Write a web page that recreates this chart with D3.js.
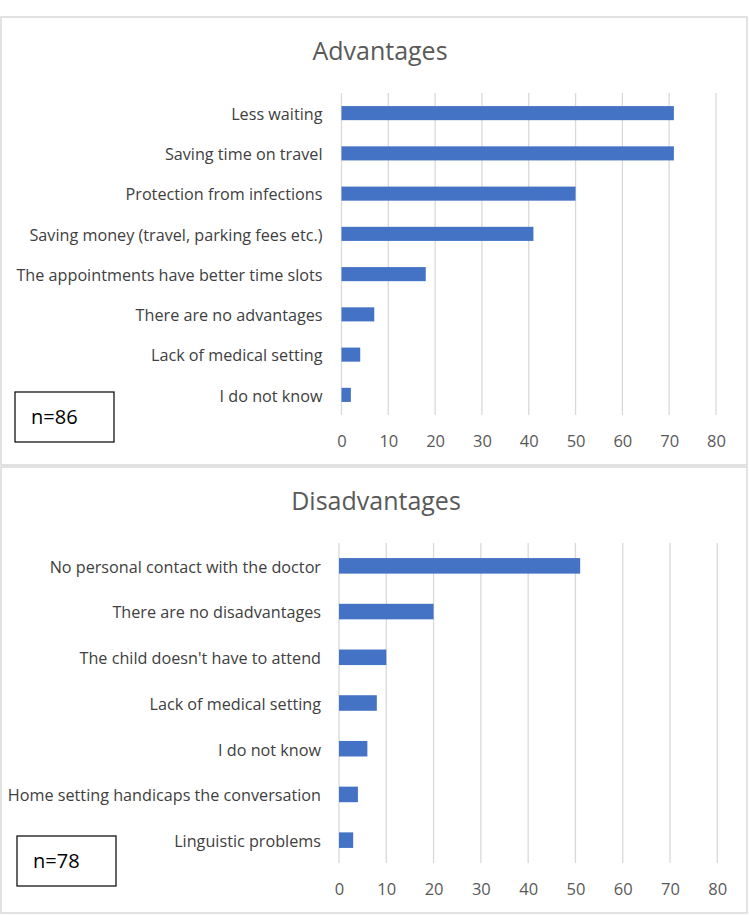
<!DOCTYPE html>
<html><head><meta charset="utf-8">
<script src="https://cdn.jsdelivr.net/npm/d3@7"></script>
<style>body{margin:0;background:#fff}svg{display:block}</style>
</head><body>
<script>
const advCategories = ["Less waiting","Saving time on travel","Protection from infections","Saving money (travel, parking fees etc.)","The appointments have better time slots","There are no advantages","Lack of medical setting","I do not know"];
const advValues = [71,71,50,41,18,7,4,2];
const disCategories = ["No personal contact with the doctor","There are no disadvantages","The child doesn't have to attend","Lack of medical setting","I do not know","Home setting handicaps the conversation","Linguistic problems"];
const disValues = [51,20,10,8,6,4,3];
const xTicks = [0,10,20,30,40,50,60,70,80];
const panelTitles = ["Advantages","Disadvantages"];
const nLabels = ["n=86","n=78"];

const W = 749, H = 916;
const svg = d3.select("body").append("svg").attr("width", W).attr("height", H);
const font = "'Open Sans', 'Noto Sans', sans-serif";

function panel(cfg){
  const g = svg.append("g");
  g.append("rect").attr("x", cfg.px).attr("y", cfg.py).attr("width", cfg.pw).attr("height", cfg.ph)
    .attr("fill", "#fff").attr("stroke", "#d9d9d9").attr("stroke-width", 1.5);
  g.append("text").attr("x", cfg.titleX).attr("y", cfg.titleY).attr("text-anchor", "middle")
    .attr("font-family", font).attr("font-size", 25).attr("fill", "#595959").text(cfg.title);
  const x = d3.scaleLinear().domain([0, 80]).range([cfg.x0, cfg.x1]);
  const y = d3.scaleBand().domain(cfg.cats).range([cfg.y0, cfg.y1]).paddingInner(cfg.pad).paddingOuter(cfg.pad/2);
  g.append("g").selectAll("line").data(xTicks).join("line")
    .attr("x1", d => x(d)).attr("x2", d => x(d)).attr("y1", cfg.y0).attr("y2", cfg.y1)
    .attr("stroke", "#d9d9d9").attr("stroke-width", 1.3);
  g.append("g").selectAll("rect").data(cfg.vals).join("rect")
    .attr("x", x(0)).attr("y", (d, i) => y(cfg.cats[i])).attr("width", d => x(d) - x(0))
    .attr("height", y.bandwidth()).attr("fill", "#4472c4");
  const ax = g.append("g").attr("transform", `translate(0,${cfg.y1})`)
    .call(d3.axisBottom(x).tickValues(xTicks).tickSize(0).tickPadding(cfg.tickPad));
  ax.select(".domain").remove();
  ax.selectAll("text").attr("font-family", font).attr("font-size", 16.5).attr("fill", "#595959");
  const ay = g.append("g").attr("transform", `translate(${cfg.x0},0)`)
    .call(d3.axisLeft(y).tickSize(0).tickPadding(cfg.labelPad));
  ay.select(".domain").remove();
  ay.selectAll("text").attr("font-family", font).attr("font-size", 16.2).attr("fill", "#404040").attr("dy", "0.42em");
  g.append("rect").attr("x", cfg.bx).attr("y", cfg.by).attr("width", 99).attr("height", 50)
    .attr("fill", "#fff").attr("stroke", "#000").attr("stroke-width", 1.2);
  g.append("text").attr("x", cfg.bx + 16).attr("y", cfg.by + 32).attr("font-family", font)
    .attr("font-size", 20).attr("fill", "#000").text(cfg.n);
}

panel({px:1, py:17, pw:746, ph:448, title:panelTitles[0], titleX:380, titleY:60,
  x0:341.5, x1:716, y0:93, y1:415, cats:advCategories, vals:advValues, pad:0.65,
  tickPad:20, labelPad:19, bx:15, by:392, n:nLabels[0]});
panel({px:1, py:467, pw:746, ph:446, title:panelTitles[1], titleX:376, titleY:510,
  x0:339, x1:717.3, y0:543, y1:863, cats:disCategories, vals:disValues, pad:0.66,
  tickPad:20, labelPad:18, bx:17, by:836, n:nLabels[1]});
</script>
</body></html>
